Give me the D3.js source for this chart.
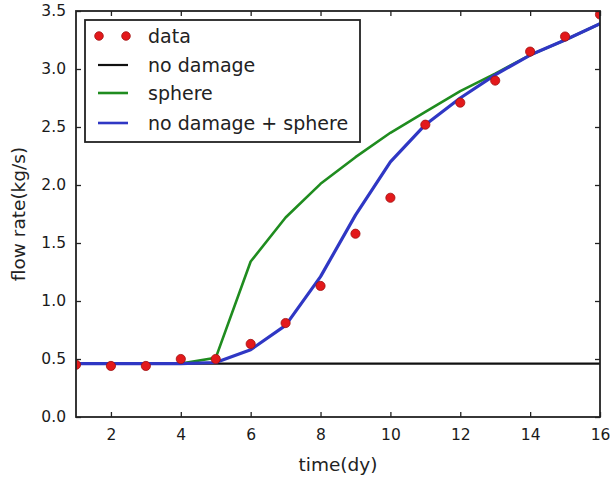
<!DOCTYPE html>
<html>
<head>
<meta charset="utf-8">
<script src="https://cdn.jsdelivr.net/npm/d3@7"></script>
<style>
  html, body { margin: 0; padding: 0; background: #fff; }
  svg { display: block; font-family: "DejaVu Sans", sans-serif; }
</style>
</head>
<body>
<svg id="chart" width="610" height="477"></svg>
<script>
// Flow rate over time: measured data against three model curves
const days = [1, 2, 3, 4, 5, 6, 7, 8, 9, 10, 11, 12, 13, 14, 15, 16];
const dataFlow = [0.45, 0.44, 0.44, 0.50, 0.50, 0.63, 0.81, 1.13, 1.58, 1.89, 2.52, 2.71, 2.90, 3.15, 3.28, 3.47];
const noDamage = [0.46, 0.46, 0.46, 0.46, 0.46, 0.46, 0.46, 0.46, 0.46, 0.46, 0.46, 0.46, 0.46, 0.46, 0.46, 0.46];
const sphere = [0.46, 0.46, 0.46, 0.46, 0.51, 1.34, 1.72, 2.01, 2.24, 2.45, 2.63, 2.81, 2.96, 3.12, 3.25, 3.39];
const combined = [0.46, 0.46, 0.46, 0.46, 0.47, 0.58, 0.79, 1.21, 1.74, 2.20, 2.52, 2.75, 2.95, 3.12, 3.25, 3.39];
const xTicks = [2, 4, 6, 8, 10, 12, 14, 16];
const yTicks = [0.0, 0.5, 1.0, 1.5, 2.0, 2.5, 3.0, 3.5];
const legendLabels = ["data", "no damage", "sphere", "no damage + sphere"];

const svg = d3.select("#chart");
const L = 76, R = 600, T = 11, B = 417;

const x = d3.scaleLinear().domain([1, 16]).range([L, R]);
const y = d3.scaleLinear().domain([0, 3.5]).range([B, T]);

const colors = { data: "#e3191b", noDamage: "#111111", sphere: "#1f8c1f", combined: "#2f37c4" };

// clip lines and dots to the axes box
svg.append("defs").append("clipPath").attr("id", "plotClip")
  .append("rect").attr("x", L).attr("y", T).attr("width", R - L).attr("height", B - T);

const plot = svg.append("g").attr("clip-path", "url(#plotClip)");

const line = d3.line().x((d, i) => x(days[i])).y(d => y(d));

plot.append("path").datum(noDamage).attr("d", line)
  .attr("fill", "none").attr("stroke", colors.noDamage).attr("stroke-width", 2.2);
plot.append("path").datum(sphere).attr("d", line)
  .attr("fill", "none").attr("stroke", colors.sphere).attr("stroke-width", 2.6)
  .attr("stroke-linejoin", "round");
plot.append("path").datum(combined).attr("d", line)
  .attr("fill", "none").attr("stroke", colors.combined).attr("stroke-width", 3.2)
  .attr("stroke-linejoin", "round");

plot.selectAll("circle.pt").data(dataFlow).join("circle")
  .attr("class", "pt")
  .attr("cx", (d, i) => x(days[i]))
  .attr("cy", d => y(d))
  .attr("r", 4.6)
  .attr("fill", colors.data)
  .attr("stroke", "#a01010")
  .attr("stroke-width", 0.8);

// axes with inward ticks on all four sides
const tickLen = 5;
const axisB = d3.axisBottom(x).tickValues(xTicks).tickSize(-tickLen).tickPadding(12).tickFormat(d3.format("d"));
const axisT = d3.axisTop(x).tickValues(xTicks).tickSize(-tickLen).tickFormat("");
const axisLft = d3.axisLeft(y).tickValues(yTicks).tickSize(-tickLen).tickPadding(10).tickFormat(d3.format(".1f"));
const axisRt = d3.axisRight(y).tickValues(yTicks).tickSize(-tickLen).tickFormat("");

function styleAxis(g) {
  g.select(".domain").remove();
  g.selectAll(".tick line").attr("stroke", "#222").attr("stroke-width", 1.3);
  g.selectAll(".tick text").attr("fill", "#1a1a1a").attr("font-size", 15.5)
    .attr("font-family", "DejaVu Sans, sans-serif");
}

svg.append("g").attr("transform", `translate(0,${B})`).call(axisB).call(styleAxis);
svg.append("g").attr("transform", `translate(0,${T})`).call(axisT).call(styleAxis);
svg.append("g").attr("transform", `translate(${L},0)`).call(axisLft).call(styleAxis);
svg.append("g").attr("transform", `translate(${R},0)`).call(axisRt).call(styleAxis);

svg.append("rect").attr("x", L).attr("y", T).attr("width", R - L).attr("height", B - T)
  .attr("fill", "none").attr("stroke", "#222").attr("stroke-width", 1.8);

// axis titles
svg.append("text").attr("x", (L + R) / 2).attr("y", 471)
  .attr("text-anchor", "middle").attr("font-size", 18.5).attr("fill", "#222")
  .text("time(dy)");
svg.append("text")
  .attr("transform", `translate(25,${(T + B) / 2}) rotate(-90)`)
  .attr("text-anchor", "middle").attr("font-size", 18.5).attr("fill", "#222")
  .text("flow rate(kg/s)");

// legend
const leg = svg.append("g").attr("transform", "translate(85,20)");
leg.append("rect").attr("x", 0).attr("y", 0).attr("width", 275).attr("height", 122)
  .attr("fill", "#fff").attr("stroke", "#222").attr("stroke-width", 1.8);

const rowY = [16, 45, 73, 103];
const legendStyles = [
  { type: "dots", color: colors.data },
  { type: "line", color: colors.noDamage, w: 2.2 },
  { type: "line", color: colors.sphere, w: 2.6 },
  { type: "line", color: colors.combined, w: 2.6 }
];
legendLabels.forEach((lab, i) => {
  const s = legendStyles[i];
  if (s.type === "dots") {
    [14, 41].forEach(cx => leg.append("circle").attr("cx", cx).attr("cy", rowY[i]).attr("r", 4.3)
      .attr("fill", s.color).attr("stroke", "#a01010").attr("stroke-width", 0.8));
  } else {
    leg.append("line").attr("x1", 13).attr("x2", 43).attr("y1", rowY[i]).attr("y2", rowY[i])
      .attr("stroke", s.color).attr("stroke-width", s.w);
  }
  leg.append("text").attr("x", 63).attr("y", rowY[i] + 6.5)
    .attr("font-size", 19).attr("fill", "#222").text(lab);
});
</script>
</body>
</html>
